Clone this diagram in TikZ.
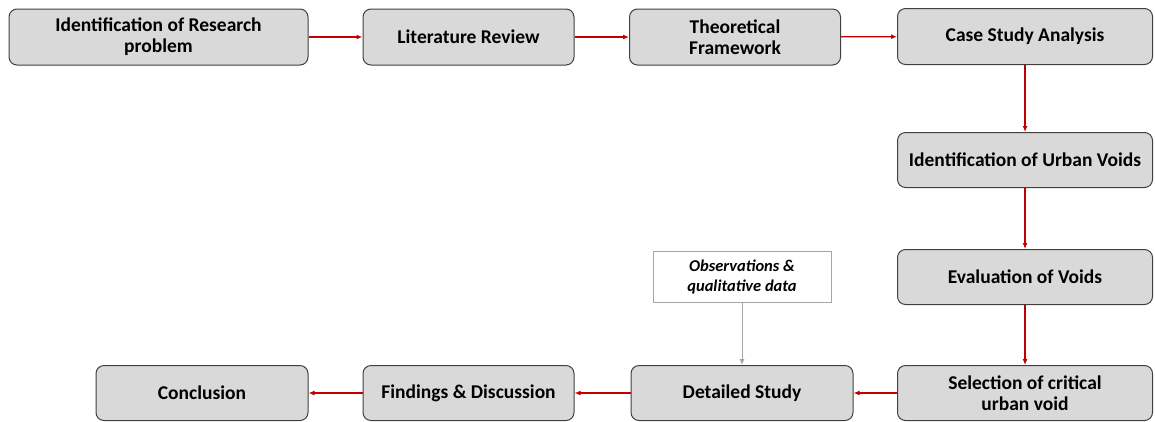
\documentclass[tikz,border=0pt]{standalone}
\usepackage{fontspec}
\setmainfont{Carlito}
\usetikzlibrary{arrows.meta}
\definecolor{boxfill}{HTML}{D9D9D9}
\definecolor{boxline}{HTML}{404040}
\definecolor{flowred}{HTML}{C00000}
\definecolor{notegray}{HTML}{A6A6A6}
\tikzset{
  stepbox/.style={draw=boxline,line width=1pt,fill=boxfill,rounded corners=8pt,
    minimum height=56pt,align=center,inner sep=2pt,
    font=\fontsize{19.5}{21}\selectfont\bfseries},
  notebox/.style={draw=notegray,line width=0.8pt,fill=white,minimum width=178pt,
    minimum height=51pt,align=center,inner sep=2pt,
    font=\fontsize{16.5}{20}\selectfont\bfseries\itshape},
  flow/.style={draw=flowred,line width=1.2pt,-{Latex[length=6pt,width=5pt]}},
  feed/.style={draw=notegray,line width=1pt,-{Latex[length=6pt,width=5pt]}}
}
\begin{document}
\begin{tikzpicture}[x=1pt,y=-1pt]
    \useasboundingbox (0,0) rectangle (1155,421);
    % top row
    \node[stepbox,minimum width=299pt] (resprob) at (158.5,37) {Identification of Research\\problem};
    \node[stepbox,minimum width=211pt] (litrev) at (468.5,37) {Literature Review};
    \node[stepbox,minimum width=211pt] (theory) at (735,37) {Theoretical\\Framework};
    \node[stepbox,minimum width=255pt] (casestudy) at (1025,36.5) {Case Study Analysis};
    % right column
    \node[stepbox,minimum width=255pt,minimum height=55pt] (idvoids) at (1025,160) {Identification of Urban Voids};
    \node[stepbox,minimum width=255pt,minimum height=55pt] (evalvoids) at (1025,277) {Evaluation of Voids};
    % bottom row
    \node[stepbox,minimum width=255pt,minimum height=55pt] (selvoid) at (1025,393) {Selection of critical\\urban void};
    \node[stepbox,minimum width=222pt,minimum height=55pt] (detail) at (742,393) {Detailed Study};
    \node[stepbox,minimum width=211pt,minimum height=55pt] (findings) at (468.5,393) {Findings \& Discussion};
    \node[stepbox,minimum width=212pt,minimum height=55pt] (concl) at (202,393) {Conclusion};
    \node[notebox] (obs) at (742,276.5) {Observations \&\\qualitative data};
    % connectors
    \draw[flow] (resprob) -- (litrev);
    \draw[flow] (litrev) -- (theory);
    \draw[flow] (theory) -- (casestudy);
    \draw[flow] (casestudy) -- (idvoids);
    \draw[flow] (idvoids) -- (evalvoids);
    \draw[flow] (evalvoids) -- (selvoid);
    \draw[flow] (selvoid) -- (detail);
    \draw[flow] (detail) -- (findings);
    \draw[flow] (findings) -- (concl);
    \draw[feed] (obs) -- (detail);
\end{tikzpicture}
\end{document}
